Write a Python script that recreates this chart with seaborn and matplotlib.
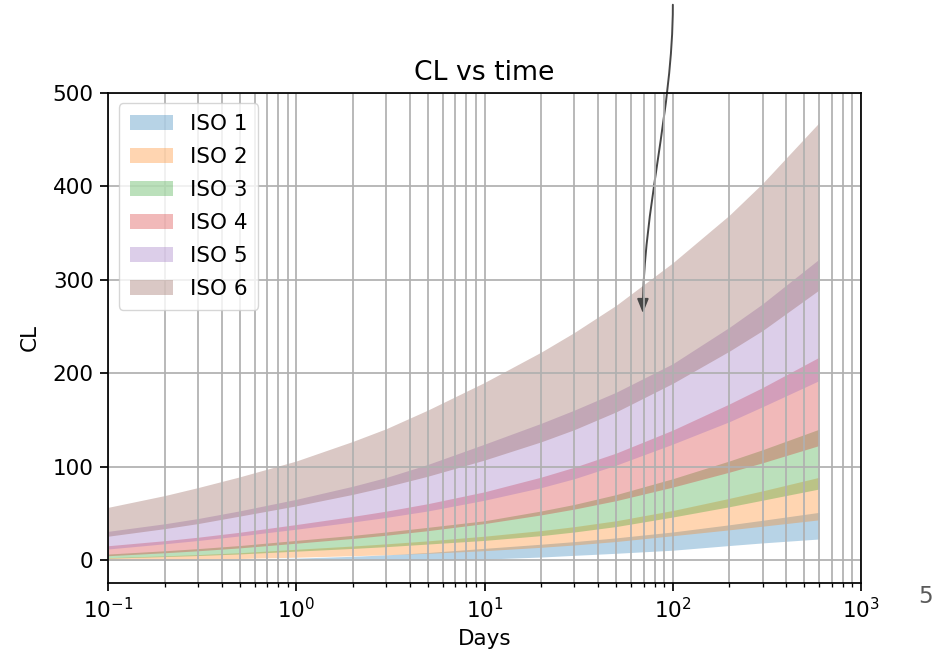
import matplotlib
matplotlib.use("Agg")
import matplotlib.pyplot as plt
from matplotlib.patches import Patch, FancyArrowPatch
from matplotlib.path import Path
import numpy as np
import pandas as pd
import seaborn as sns

# Sampling times (days) and the lower / upper CL envelope of each ISO class
days = [0.1, 0.2, 0.3, 0.5, 1, 2, 3, 5, 10, 20, 30, 50, 100, 200, 300, 600]

iso1_lo = [0.0, 0.0, 0.0, 0.0, 0.0, 0.0, 0.0, 0.1, 1.0, 3.2, 5.0, 7.2,
           10.5, 15.5, 18.3, 22.5]
iso1_hi = [0.3, 0.5, 0.7, 1.1, 2.0, 4.0, 5.5, 8.0, 12.5, 16.9, 19.7, 23.7,
           30.0, 37.7, 42.5, 51.0]
iso2_lo = [0.0, 0.4, 0.8, 1.6, 3.0, 4.6, 5.6, 7.2, 10.0, 13.6, 16.1, 19.8,
           26.0, 32.3, 36.2, 43.0]
iso2_hi = [2.5, 4.5, 5.8, 7.8, 11.5, 15.0, 17.3, 20.5, 25.5, 31.5, 35.7, 42.0,
           53.0, 66.0, 74.0, 88.5]
iso3_lo = [2.0, 3.7, 4.8, 6.5, 9.5, 12.4, 14.3, 17.1, 21.0, 26.1, 30.0, 35.8,
           46.0, 57.0, 64.0, 76.0]
iso3_hi = [6.4, 9.9, 12.2, 15.5, 21.0, 26.4, 30.0, 35.0, 42.0, 52.5, 59.5, 70.0,
           87.0, 106.0, 118.0, 140.0]
iso4_lo = [4.6, 7.8, 9.9, 13.0, 18.0, 23.1, 26.5, 31.4, 39.0, 48.3, 54.5, 63.5,
           78.0, 94.0, 104.0, 122.5]
iso4_hi = [15.3, 20.7, 24.4, 29.7, 38.0, 46.7, 52.3, 60.3, 73.0, 88.7, 99.3, 114.4,
           139.0, 167.0, 184.5, 217.0]
iso5_lo = [11.8, 17.4, 20.9, 25.8, 33.0, 40.7, 45.6, 52.5, 64.0, 77.5, 87.0, 101.5,
           124.0, 148.0, 164.0, 192.0]
iso5_hi = [30.7, 38.8, 44.4, 52.6, 65.0, 79.0, 88.3, 102.3, 124.0, 146.3, 160.4, 179.5,
           210.0, 249.0, 274.0, 322.0]
iso6_lo = [25.5, 33.6, 39.0, 47.0, 58.0, 70.3, 78.4, 89.7, 107.0, 126.5, 139.5, 158.5,
           189.0, 223.5, 245.5, 289.0]
iso6_hi = [56.4, 69.0, 77.5, 89.0, 106.0, 127.0, 140.5, 160.5, 190.0, 222.5, 243.5, 272.5,
           318.0, 369.0, 403.0, 468.0]

labels = ["ISO 1", "ISO 2", "ISO 3", "ISO 4", "ISO 5", "ISO 6"]
bounds = [(iso1_lo, iso1_hi), (iso2_lo, iso2_hi), (iso3_lo, iso3_hi),
          (iso4_lo, iso4_hi), (iso5_lo, iso5_hi), (iso6_lo, iso6_hi)]

# Long table: two rows per time step (lower and upper bound) per class
rows = []
for lab, (lo, hi) in zip(labels, bounds):
    for d, a, b in zip(days, lo, hi):
        rows.append({"Days": d, "CL": a, "ISO": lab})
        rows.append({"Days": d, "CL": b, "ISO": lab})
df = pd.DataFrame(rows)

palette = sns.color_palette("tab10", 6)
band_alpha = 0.32

plt.rcParams.update({
    "font.family": ["DejaVu Sans"],
    "axes.axisbelow": "line",
    "axes.linewidth": 1.25,
    "xtick.major.width": 1.25,
    "ytick.major.width": 1.25,
    "xtick.minor.width": 0.95,
    "xtick.major.size": 5.5,
    "ytick.major.size": 5.5,
    "xtick.minor.size": 3.2,
})

fig = plt.figure(figsize=(9.44, 6.5), dpi=100)
ax = fig.add_axes([0.1147, 0.1035, 0.7973, 0.7539])
ax.set_xscale("log")

# Min-max band of each class (the centre line itself is hidden)
sns.lineplot(data=df, x="Days", y="CL", hue="ISO", hue_order=labels,
             palette=palette, estimator="mean", errorbar=("pi", 100),
             err_style="band", err_kws={"alpha": band_alpha, "linewidth": 0},
             linewidth=0, legend=False, ax=ax)

ax.set_xlim(0.1, 1000)
ax.set_ylim(-24.3, 500)
ax.set_yticks([0, 100, 200, 300, 400, 500])
ax.grid(True, which="both", color="#b0b0b0", linewidth=1.25)

ax.set_title("CL vs time", fontsize=19.2, pad=9)
ax.set_xlabel("Days", fontsize=15.5, labelpad=5)
ax.set_ylabel("CL", fontsize=15.5, labelpad=9.5)
ax.tick_params(axis="both", which="major", labelsize=15.5, pad=5)

handles = [Patch(facecolor=c, alpha=band_alpha, edgecolor="none") for c in palette]
ax.legend(handles, labels, loc="upper left", fontsize=15.5, framealpha=0.8,
          labelspacing=0.6, borderpad=0.5)

# Pointer arrow coming down from above the axes (gentle S-shaped bezier)
arrow_path = Path([(100.1, 594.1), (100.1, 481.6), (69.4, 374.4), (69.4, 264.0)],
                  [Path.MOVETO, Path.CURVE4, Path.CURVE4, Path.CURVE4])
arrow = FancyArrowPatch(path=arrow_path, arrowstyle="-|>,head_length=0.5,head_width=0.2",
                        mutation_scale=17, color="#474747", lw=1.4,
                        transform=ax.transData, clip_on=False)
ax.add_patch(arrow)

fig.text(0.98, 0.082, "5", fontsize=16.5, color="#5a5a5a",
         ha="center", va="center")

fig.savefig("out.png", dpi=100)
